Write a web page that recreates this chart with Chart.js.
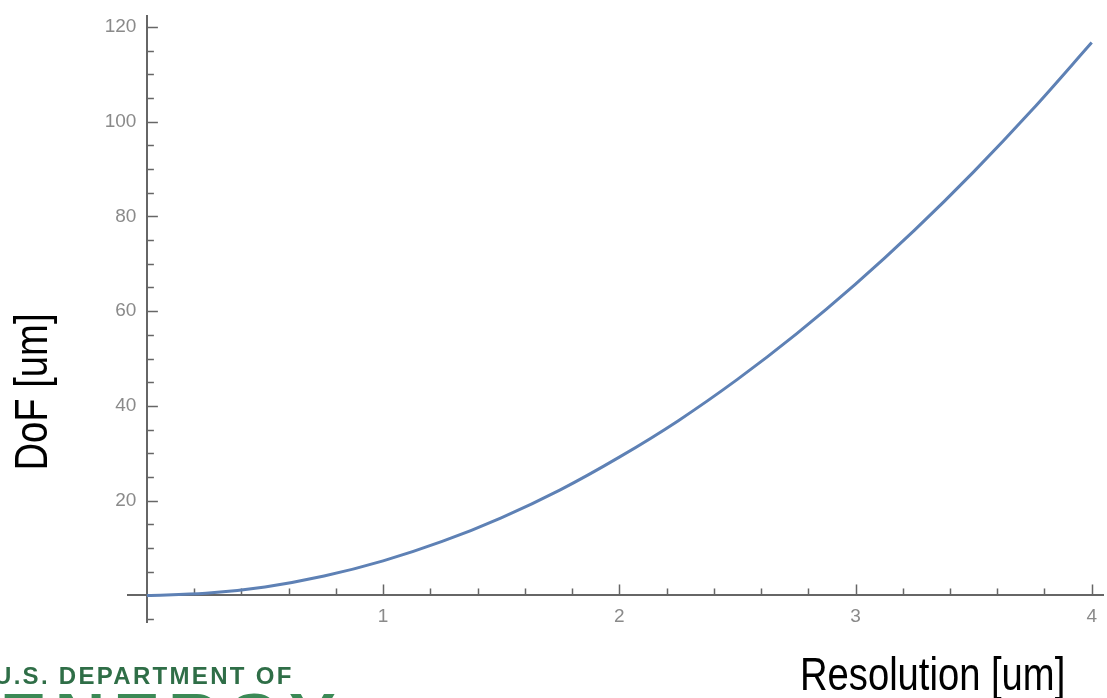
<!DOCTYPE html>
<html>
<head>
<meta charset="utf-8">
<script src="https://cdn.jsdelivr.net/npm/chart.js@4/dist/chart.umd.min.js"></script>
<style>
  html, body { margin: 0; padding: 0; background: #fff; }
  #wrap { position: relative; width: 1107px; height: 698px; }
</style>
</head>
<body>
<div id="wrap"><canvas id="dofChart" width="1107" height="698"></canvas></div>
<script>
// values
const resolution = [0, 0.25, 0.5, 0.75, 1, 1.25, 1.5, 1.75, 2, 2.25, 2.5, 2.75, 3, 3.25, 3.5, 3.75, 4];
const dof = [0, 0.45, 1.8, 4.1, 7.3, 11.4, 16.4, 22.3, 29.2, 36.9, 45.6, 55.2, 65.7, 77.1, 89.4, 102.6, 116.7];
const xTitle = "Resolution [um]";
const yTitle = "DoF [um]";
const logoTop = "U.S. DEPARTMENT OF";
const logoBig = "ENERGY";

const AXIS = "#666666";
const LABEL = "#8a8a8a";

function isMult(v, m) {
  const r = v / m;
  return Math.abs(r - Math.round(r)) < 1e-6;
}

// Mathematica style inward ticks
const inwardTicks = {
  id: "inwardTicks",
  beforeDatasetsDraw(chart) {
    const { ctx, scales: { x, y } } = chart;
    const x0 = x.getPixelForValue(0);
    const y0 = y.getPixelForValue(0);
    ctx.save();
    ctx.strokeStyle = AXIS;
    ctx.lineWidth = 1.5;
    x.ticks.forEach((t) => {
      const v = t.value;
      if (v < x.min || v > x.max || Math.abs(v) < 1e-6) return;
      const px = Math.round(x.getPixelForValue(v)) + 0.5;
      const len = isMult(v, 1) ? 11 : 7;
      ctx.beginPath();
      ctx.moveTo(px, y0);
      ctx.lineTo(px, y0 - len);
      ctx.stroke();
    });
    y.ticks.forEach((t) => {
      const v = t.value;
      if (v < y.min || v > y.max || Math.abs(v) < 1e-6) return;
      const py = Math.round(y.getPixelForValue(v)) + 0.5;
      const len = isMult(v, 20) ? 11 : 7;
      ctx.beginPath();
      ctx.moveTo(x0, py);
      ctx.lineTo(x0 + len, py);
      ctx.stroke();
    });
    ctx.restore();
  },
  afterDraw(chart) {
    const ctx = chart.ctx;
    ctx.save();
    // axis titles, narrow sans
    ctx.fillStyle = "#000";
    ctx.font = "46px 'Liberation Sans', Arial, sans-serif";
    ctx.textBaseline = "alphabetic";
    ctx.textAlign = "left";
    ctx.save();
    ctx.translate(800, 690);
    ctx.scale(0.83, 1);
    ctx.fillText(xTitle, 0, 0);
    ctx.restore();

    ctx.save();
    ctx.translate(47, 392);
    ctx.rotate(-Math.PI / 2);
    ctx.scale(0.83, 1);
    ctx.textAlign = "center";
    ctx.fillText(yTitle, 0, 0);
    ctx.restore();

    // DOE logo, cut off at the bottom left
    ctx.fillStyle = "#2f6e47";
    ctx.font = "bold 24px 'Liberation Sans', Arial, sans-serif";
    ctx.letterSpacing = "2.3px";
    ctx.fillText(logoTop, -6, 684);
    ctx.fillStyle = "#3b8a56";
    ctx.font = "bold 70px 'Liberation Sans', Arial, sans-serif";
    ctx.letterSpacing = "8px";
    ctx.fillText(logoBig, 0, 743);
    ctx.restore();
  },
};

const ctx = document.getElementById("dofChart").getContext("2d");
new Chart(ctx, {
  type: "line",
  data: {
    datasets: [
      {
        data: resolution.map((r, i) => ({ x: r, y: dof[i] })),
        borderColor: "#5e81b5",
        borderWidth: 3,
        pointRadius: 0,
        cubicInterpolationMode: "monotone",
        fill: false,
      },
    ],
  },
  options: {
    responsive: false,
    animation: false,
    layout: { padding: { left: 128, top: 16, right: 0, bottom: 76 } },
    plugins: {
      legend: { display: false },
      tooltip: { enabled: false },
    },
    scales: {
      x: {
        type: "linear",
        min: -0.08,
        max: 4.05,
        position: { y: 0 },
        ticks: {
          stepSize: 0.2,
          includeBounds: false,
          autoSkip: false,
          maxRotation: 0,
          padding: 10,
          color: LABEL,
          font: { size: 19, family: "'Liberation Sans', Arial, sans-serif" },
          callback: (v) => (v > 0 && isMult(v, 1) ? String(Math.round(v)) : ""),
        },
        grid: { drawOnChartArea: false, drawTicks: false },
        border: { color: AXIS, width: 2 },
      },
      y: {
        type: "linear",
        min: -5.6,
        max: 122.3,
        position: { x: 0 },
        ticks: {
          stepSize: 5,
          includeBounds: false,
          autoSkip: false,
          color: LABEL,
          font: { size: 19, family: "'Liberation Sans', Arial, sans-serif" },
          // trailing spaces keep the labels off the axis line
          callback: (v) => (v > 0 && isMult(v, 20) ? Math.round(v) + "  " : ""),
        },
        grid: { drawOnChartArea: false, drawTicks: false },
        border: { color: AXIS, width: 2 },
      },
    },
  },
  plugins: [inwardTicks],
});
</script>
</body>
</html>
